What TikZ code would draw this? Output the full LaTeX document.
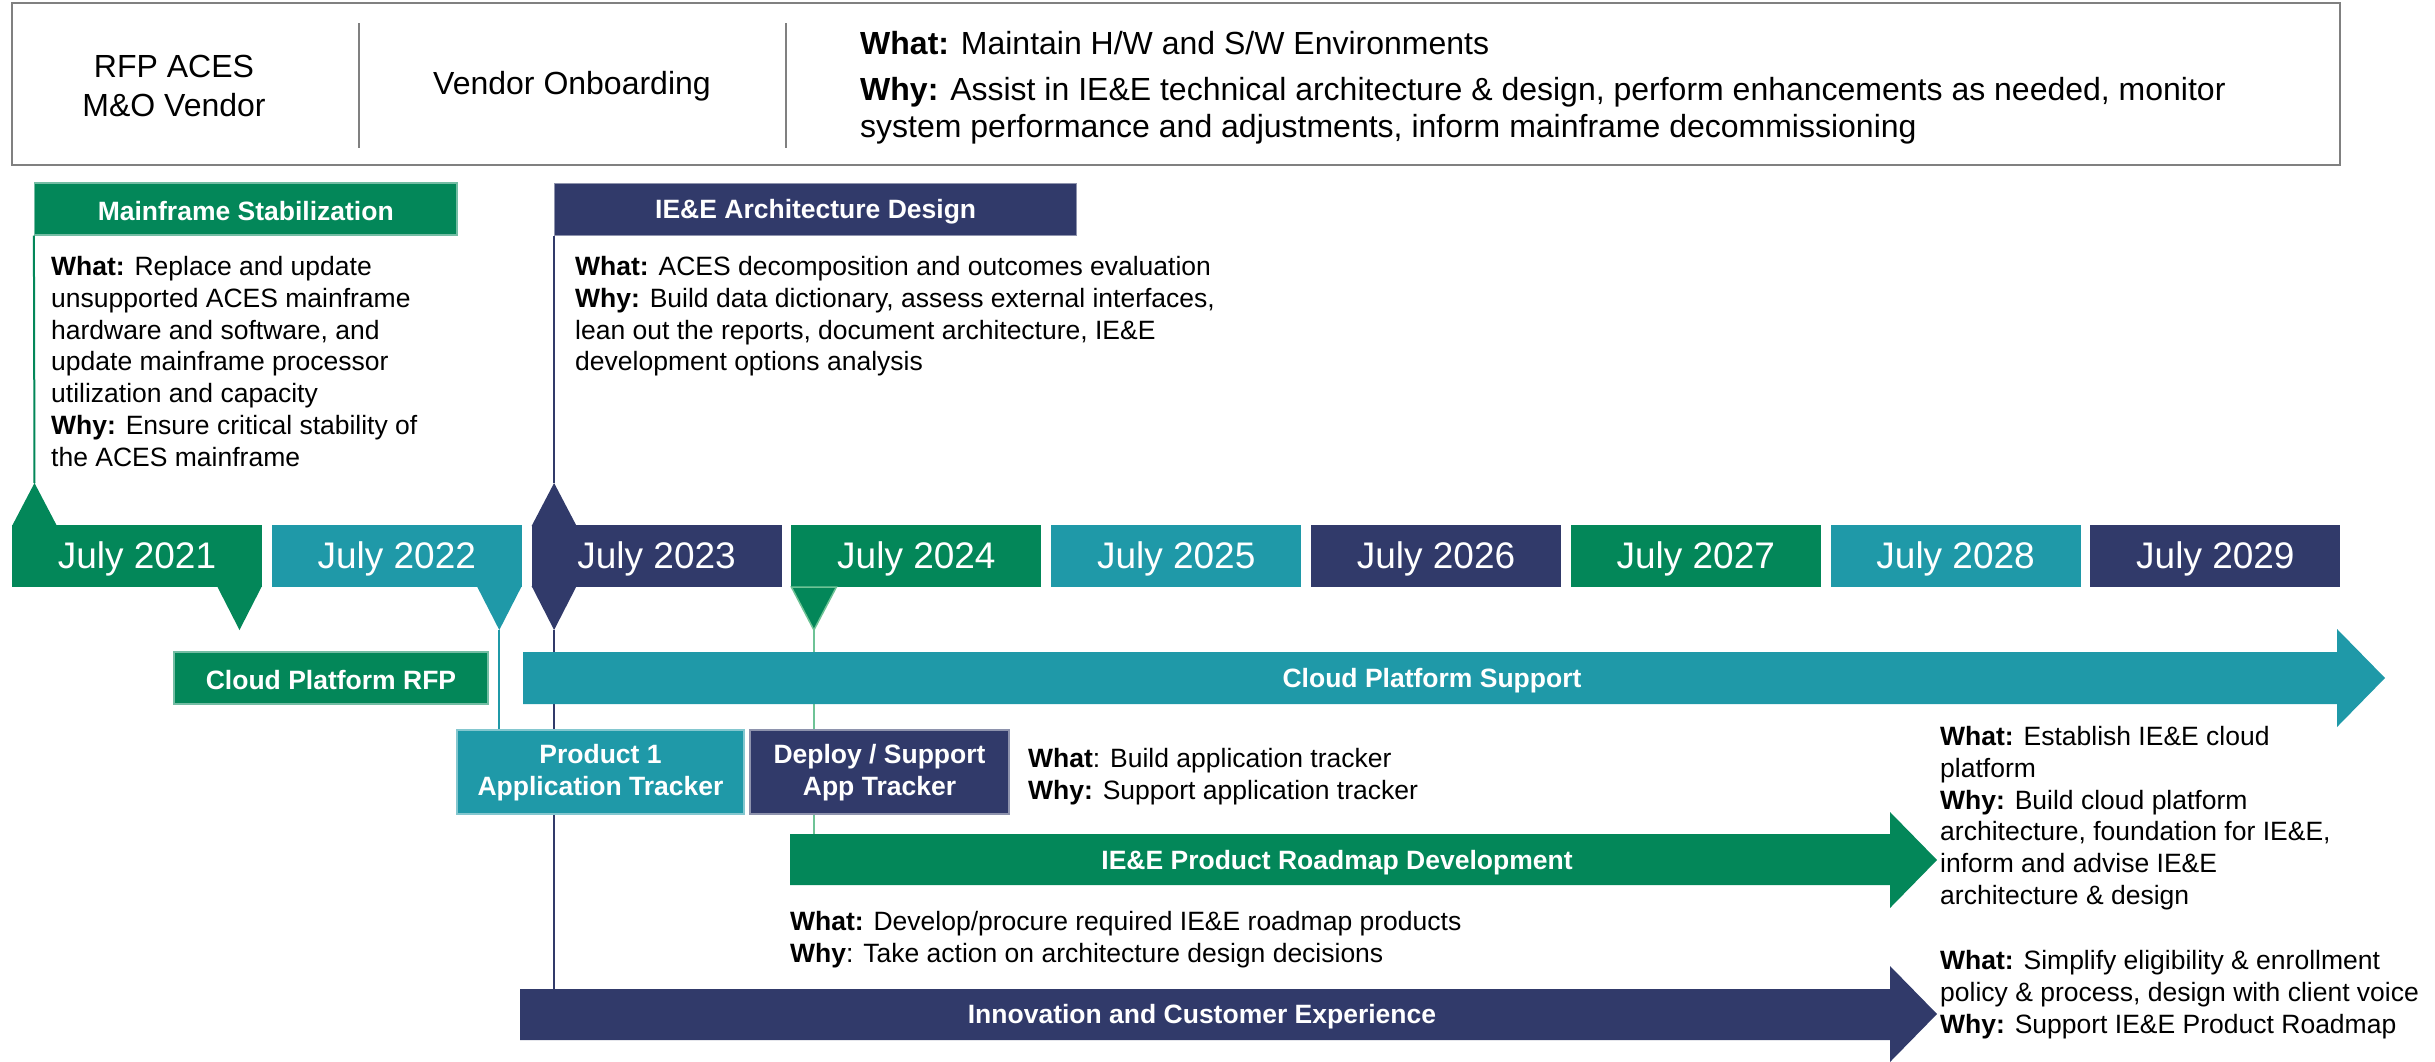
\documentclass[tikz,border=0pt]{standalone}
\usepackage{fontspec}
\setmainfont{Liberation Sans}
\definecolor{cgreen}{RGB}{3,135,89}
\definecolor{cteal}{RGB}{31,153,168}
\definecolor{cnavy}{RGB}{49,58,106}
\definecolor{cframe}{RGB}{128,128,128}
\definecolor{lgreen}{RGB}{110,195,150}
\begin{document}
\begin{tikzpicture}[x=1pt,y=-1pt,
  topt/.style={inner sep=0pt, font=\fontsize{32}{37}\selectfont},
  body/.style={anchor=north west, inner sep=0pt, align=left, font=\fontsize{26.5}{31.8}\selectfont},
  hdr/.style={inner sep=0pt, align=center, text=white, font=\fontsize{26.5}{32}\selectfont\bfseries},
  bar/.style={inner sep=0pt, draw=#1!55!white, line width=1.2pt, fill=#1},
  yearbox/.style={inner sep=0pt, minimum width=250pt, minimum height=62pt, fill=#1},
  yeartext/.style={inner sep=0pt, text=white, font=\fontsize{37}{40}\selectfont, yshift=-3pt},
  link/.style={line width=2pt}
]
\useasboundingbox (0,0) rectangle (2435,1061);

% ---------- top banner ----------
\node[draw=cframe, line width=2pt, minimum width=2328pt, minimum height=162pt, inner sep=0pt] (banner) at (1176,84) {};
\draw[cframe, line width=1.5pt] (359,23) -- (359,148);
\draw[cframe, line width=1.5pt] (786,23) -- (786,148);
\node[topt, align=center, font=\fontsize{32}{39}\selectfont] (rfp) at (174,86) {RFP ACES\\M\&O Vendor};
\node[topt] (vo) at (572,86) {Vendor Onboarding};
\node[topt, anchor=north west] (what0) at (860,31) {\textbf{What:} Maintain H/W and S/W Environments};
\node[topt, anchor=north west, align=left] (why0) at (860,77) {\textbf{Why:} Assist in IE\&E technical architecture \& design, perform enhancements as needed, monitor\\system performance and adjustments, inform mainframe decommissioning};

% ---------- connector end points ----------
\coordinate (msPeak) at (34.5,483);
\coordinate (p22tip) at (499.3,630);
\coordinate (p23peak) at (554.1,483);
\coordinate (p23tip) at (554.1,630);
\coordinate (p24tip) at (813.9,630);
\coordinate (iceTop) at (554.1,989);
\coordinate (rmTop) at (813.9,834);

% ---------- headers ----------
\node[bar=cgreen, minimum width=422.5pt, minimum height=52pt] (ms) at (245.75,209) {};
\node[hdr, yshift=-2pt] (msT) at (ms.center) {Mainframe Stabilization};
\node[bar=cnavy, minimum width=522pt, minimum height=52pt, anchor=north west] (ad) at (554.1,183) {};
\node[hdr, yshift=-2pt] (adT) at (ad.center) {IE\&E Architecture Design};

\draw[cgreen, link] (ms.south west) -- (msPeak);
\draw[cnavy, link] (ad.south west) -- (p23peak);
\draw[cteal, link] (p22tip) -- (499.3,730);
\draw[cnavy, link] (p23tip) -- (iceTop);
\draw[lgreen, link] (p24tip) -- (rmTop);

% ---------- body texts ----------
\node[body] (msBody) at (51,256) {\textbf{What:} Replace and update\\unsupported ACES mainframe\\hardware and software, and\\update mainframe processor\\utilization and capacity\\\textbf{Why:} Ensure critical stability of\\the ACES mainframe};
\node[body] (adBody) at (575,256) {\textbf{What:} ACES decomposition and outcomes evaluation\\\textbf{Why:} Build data dictionary, assess external interfaces,\\lean out the reports, document architecture, IE\&E\\development options analysis};

% ---------- year row ----------
\foreach \i/\yr/\c in {0/2021/cgreen,1/2022/cteal,2/2023/cnavy,3/2024/cgreen,4/2025/cteal,5/2026/cnavy,6/2027/cgreen,7/2028/cteal,8/2029/cnavy}{
  \pgfmathsetmacro\xc{12+\i*259.8+125}
  \node[yearbox=\c] (y\yr) at (\xc,556) {};
  \node[yeartext] (t\yr) at (y\yr.center) {July \yr};
}
% markers
\fill[cgreen] (12,526) -- (msPeak) -- (57,526) -- cycle;
\fill[cgreen] (217,586) -- (239.5,630) -- (262,586) -- cycle;
\fill[cteal] (476.8,586) -- (p22tip) -- (521.8,586) -- cycle;
\fill[cnavy] (531.6,526) -- (p23peak) -- (576.6,526) -- cycle;
\fill[cnavy] (531.6,586) -- (p23tip) -- (576.6,586) -- cycle;
\filldraw[fill=cgreen, draw=lgreen, line width=1.5pt] (791.4,587) -- (p24tip) -- (836.4,587) -- cycle;

% ---------- cloud row ----------
\node[bar=cgreen, minimum width=314pt, minimum height=52pt] (rfpBox) at (331,678) {};
\node[hdr, yshift=-2pt] (rfpT) at (rfpBox.center) {Cloud Platform RFP};
\fill[cteal] (523,652) -- (2337,652) -- (2337,629) -- (2385,678) -- (2337,727) -- (2337,704) -- (523,704) -- cycle;
\node[hdr, yshift=-3pt] (cps) at (1432,678) {Cloud Platform Support};

% ---------- tracker row ----------
\node[bar=cteal, minimum width=287pt, minimum height=84pt] (p1) at (600.5,772) {};
\node[hdr, yshift=-1pt] (p1T) at (p1.center) {Product 1\\Application Tracker};
\node[bar=cnavy, minimum width=259pt, minimum height=84pt] (dep) at (879.5,772) {};
\node[hdr, yshift=-1pt] (depT) at (dep.center) {Deploy / Support\\App Tracker};
\node[body] (trk) at (1028,748) {\textbf{What}: Build application tracker\\\textbf{Why:} Support application tracker};

% ---------- roadmap arrow ----------
\fill[cgreen] (790,834) -- (1890,834) -- (1890,812) -- (1937,860) -- (1890,908) -- (1890,885) -- (790,885) -- cycle;
\node[hdr, yshift=-3pt] (rm) at (1337,860) {IE\&E Product Roadmap Development};
\node[body] (rmBody) at (790,911) {\textbf{What:} Develop/procure required IE\&E roadmap products\\\textbf{Why}: Take action on architecture design decisions};

% ---------- innovation arrow ----------
\fill[cnavy] (520,989) -- (1890,989) -- (1890,966) -- (1937,1014) -- (1890,1062) -- (1890,1040) -- (520,1040) -- cycle;
\node[hdr, yshift=-3pt] (ice) at (1202,1014) {Innovation and Customer Experience};

% ---------- right notes ----------
\node[body] (r1) at (1940,726) {\textbf{What:} Establish IE\&E cloud\\platform\\\textbf{Why:} Build cloud platform\\architecture, foundation for IE\&E,\\inform and advise IE\&E\\architecture \& design};
\node[body] (r2) at (1940,950) {\textbf{What:} Simplify eligibility \& enrollment\\policy \& process, design with client voice\\\textbf{Why:} Support IE\&E Product Roadmap};
\end{tikzpicture}
\end{document}
